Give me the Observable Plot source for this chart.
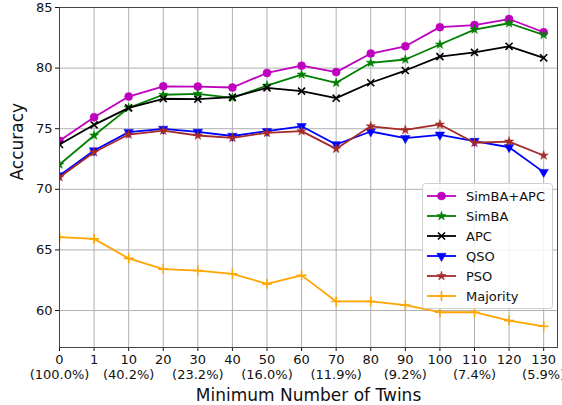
<!DOCTYPE html>
<html><head><meta charset="utf-8">
<script src="https://cdn.jsdelivr.net/npm/d3@7"></script>
<script src="https://cdn.jsdelivr.net/npm/@observablehq/plot@0.6"></script>
<style>
body{margin:0;background:#fff;font-family:"DejaVu Sans",sans-serif}
#wrap{position:relative;width:562px;height:405px}
#legend{position:absolute;left:0;top:0}
</style>
</head><body><div id="wrap"></div>
<script>
const twins = [0, 1, 10, 20, 30, 40, 50, 60, 70, 80, 90, 100, 110, 120, 130];
const shares = ["100.0%", null, "40.2%", null, "23.2%", null, "16.0%", null, "11.9%", null, "9.2%", null, "7.4%", null, "5.9%"];
const yTicks = [60, 65, 70, 75, 80, 85];

const simbaApc = [74.0, 75.95, 77.65, 78.5, 78.48, 78.4, 79.6, 80.2, 79.67, 81.2, 81.8, 83.38, 83.55, 84.05, 82.96];
const simba    = [72.05, 74.44, 76.72, 77.8, 77.88, 77.55, 78.56, 79.47, 78.79, 80.44, 80.71, 81.95, 83.18, 83.7, 82.74];
const apc      = [73.7, 75.32, 76.72, 77.47, 77.44, 77.6, 78.37, 78.1, 77.52, 78.79, 79.8, 80.95, 81.3, 81.8, 80.85];
const qso      = [71.14, 73.2, 74.72, 74.98, 74.74, 74.4, 74.8, 75.2, 73.7, 74.77, 74.22, 74.5, 73.98, 73.47, 71.42];
const pso      = [71.0, 73.06, 74.52, 74.85, 74.44, 74.25, 74.66, 74.8, 73.34, 75.2, 74.9, 75.35, 73.84, 73.94, 72.79];
const majority = [66.05, 65.91, 64.3, 63.42, 63.3, 63.03, 62.2, 62.9, 60.75, 60.75, 60.45, 59.86, 59.86, 59.17, 58.7];

const names   = ["SimBA+APC", "SimBA", "APC", "QSO", "PSO", "Majority"];
const colors  = ["#bf00bf", "#008000", "#000000", "#0000ff", "#a52a2a", "#ffa500"];
const symbols = ["circle", "star", "times", "triangle", "star", "plus"];
const filled  = [true, true, false, true, true, false];
const rotates = [0, 0, 0, 180, 0, 0];
const radii   = [4, 2.9, 3.3, 3.5, 2.9, 3.3];
const valueSets = [simbaApc, simba, apc, qso, pso, majority];

const series = names.map((name, k) => ({
  name, color: colors[k], symbol: symbols[k], filled: filled[k], rotate: rotates[k], r: radii[k],
  rows: valueSets[k].map((v, i) => ({i, v}))
}));

const marks = [
  Plot.gridX(d3.range(15), {stroke: "#b0b0b0", strokeOpacity: 1, strokeWidth: 1}),
  Plot.gridY(yTicks, {stroke: "#b0b0b0", strokeOpacity: 1, strokeWidth: 1}),
  Plot.axisX(d3.range(15), {
    tickSize: 4, tickPadding: 3, fontSize: 13, label: null, lineHeight: 1.08,
    tickFormat: i => shares[i] ? `${twins[i]}\n(${shares[i]})` : `${twins[i]}`
  }),
  Plot.axisY(yTicks, {tickSize: 4, tickPadding: 3, fontSize: 13, label: null}),
];
for (const s of series) {
  marks.push(Plot.line(s.rows, {x: "i", y: "v", stroke: s.color, strokeWidth: 1.8, clip: true}));
  marks.push(Plot.dot(s.rows, {
    x: "i", y: "v", symbol: s.symbol, r: s.r, rotate: s.rotate, clip: true,
    fill: s.filled ? s.color : "none", stroke: s.color, strokeWidth: s.filled ? 0.5 : 1.6
  }));
}
marks.push(Plot.frame({stroke: "#444", strokeWidth: 1}));
marks.push(Plot.text(["Minimum Number of Twins"], {frameAnchor: "bottom", dy: 53, fontSize: 17, fill: "#111"}));
marks.push(Plot.text(["Accuracy"], {frameAnchor: "left", rotate: -90, dx: -42, dy: 3, fontSize: 17, fill: "#111"}));

const chart = Plot.plot({
  width: 562, height: 405,
  marginLeft: 59, marginRight: 5, marginTop: 7, marginBottom: 58,
  style: {fontFamily: "DejaVu Sans, sans-serif", color: "#111", background: "#fff"},
  x: {type: "linear", domain: [0, 14.4]},
  y: {domain: [56.95, 85]},
  marks
});
const wrap = document.getElementById("wrap");
wrap.appendChild(chart);

// legend overlay
const lg = d3.select(wrap).append("svg").attr("id", "legend")
  .attr("width", 562).attr("height", 405).style("pointer-events", "none");
const lx = 422, ly = 183, lw = 130, lh = 125;
lg.append("rect").attr("x", lx + 0.5).attr("y", ly + 0.5).attr("width", lw).attr("height", lh)
  .attr("rx", 3).attr("fill", "#fff").attr("fill-opacity", 0.85).attr("stroke", "#d0d0d0");
const symMap = {circle: d3.symbolCircle, star: d3.symbolStar, times: d3.symbolTimes, triangle: d3.symbolTriangle, plus: d3.symbolPlus};
series.forEach((s, k) => {
  const y = ly + 13 + k * 20;
  const g = lg.append("g");
  g.append("line").attr("x1", lx + 5).attr("x2", lx + 34).attr("y1", y).attr("y2", y)
    .attr("stroke", s.color).attr("stroke-width", 1.8);
  g.append("path").attr("d", d3.symbol(symMap[s.symbol], Math.PI * s.r * s.r)())
    .attr("transform", `translate(${lx + 19.5},${y}) rotate(${s.rotate})`)
    .attr("fill", s.filled ? s.color : "none").attr("stroke", s.color).attr("stroke-width", s.filled ? 0.5 : 1.6);
  g.append("text").attr("x", lx + 44).attr("y", y).attr("dy", "0.35em")
    .attr("font-size", 13).attr("font-family", "DejaVu Sans, sans-serif").attr("fill", "#111").text(s.name);
});
</script></body></html>
